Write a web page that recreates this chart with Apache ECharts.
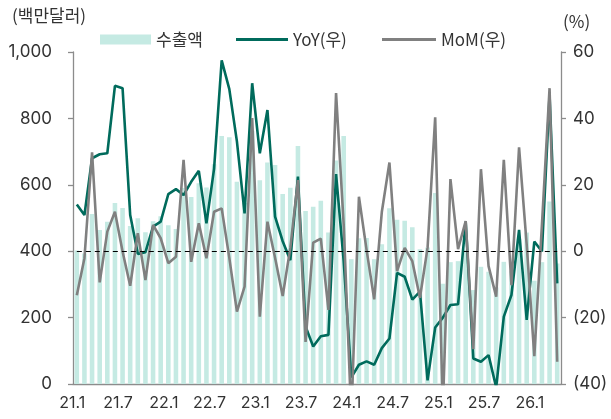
<!DOCTYPE html>
<html><head><meta charset="utf-8">
<script src="https://cdn.jsdelivr.net/npm/echarts@6/dist/echarts.min.js"></script>
<style>html,body{margin:0;padding:0;background:#fff}#c{width:611px;height:419px}</style>
</head><body><div id="c"></div>
<script>
const months = ['21.1','21.2','21.3','21.4','21.5','21.6','21.7','21.8','21.9','21.10','21.11','21.12',
'22.1','22.2','22.3','22.4','22.5','22.6','22.7','22.8','22.9','22.10','22.11','22.12',
'23.1','23.2','23.3','23.4','23.5','23.6','23.7','23.8','23.9','23.10','23.11','23.12',
'24.1','24.2','24.3','24.4','24.5','24.6','24.7','24.8','24.9','24.10','24.11','24.12',
'25.1','25.2','25.3','25.4','25.5','25.6','25.7','25.8','25.9','25.10','25.11','25.12',
'26.1','26.2','26.3','26.4'];
const exportsVal = [402,393,512,464,489,545,530,476,499,457,490,505,
478,467,590,563,605,592,662,747,743,609,545,763,
614,667,660,572,591,717,521,534,552,456,673,747,
376,439,440,376,421,529,495,492,472,406,411,575,
302,367,370,404,283,353,338,291,368,340,437,456,
311,367,550,363];
const yoyVal = [14.1,10.9,28.0,29.2,29.5,49.8,49.1,10.9,-0.8,-0.3,7.4,8.9,
17.2,18.7,16.9,20.9,24.2,8.4,24.8,57.5,48.8,33.0,11.4,50.6,
29.5,42.5,10.4,3.0,-2.7,22.5,-22.7,-28.7,-25.6,-25.2,23.2,-3,
-38,-34.2,-33.2,-34.2,-29.2,-26.3,-6.5,-7.7,-14.6,-12.2,-38.9,-23,
-20,-16.2,-16,8.9,-32.3,-33.3,-31.3,-41,-19.7,-13.2,6.4,-20.7,
2.9,-0.1,47,-9.7];
const momVal = [-13.3,-2.1,29.8,-9.4,5.9,11.9,-0.1,-10.4,5.4,-8.7,7.9,3.9,
-3.6,-1.7,27.5,-3.2,8.4,-2.1,11.9,12.9,-2,-18.2,-10.7,40.1,
-19.7,8.9,-2,-13.5,1,21.4,-27.3,2.6,3.8,-17.7,47.6,8,
-50,16.4,0.4,-14.5,11.8,26.7,-6,1,-3,-14,1,40.3,
-47.5,21.7,0.6,9.1,-29.5,24.7,-4.5,-13.7,27.5,-10.2,31.3,2,
-31.6,8,49.1,-33.3];
const leftTicks = {min:0, max:1000, step:200};
const rightTicks = {min:-40, max:60, step:20};

const FONT = '"Noto Sans CJK KR","Noto Sans",sans-serif';
const NUMFONT = 'Inter,"Noto Sans",sans-serif';
const AX = '#8c8c8c';
const TXT = '#333';
const chart = echarts.init(document.getElementById('c'), null, {renderer:'canvas'});
const legendText = {fontFamily:FONT, fontSize:17, color:TXT};
chart.setOption({
  animation:false,
  textStyle:{fontFamily:FONT},
  grid:{left:73, right:50, top:52, bottom:35},
  legend:[
    {left:95, top:26, itemWidth:51, itemHeight:10, icon:'rect', data:['수출액'], textStyle:legendText, itemGap:0},
    {left:231, top:26, itemWidth:52, itemHeight:3, icon:'rect', data:['YoY(우)'], textStyle:legendText, itemGap:0},
    {left:377, top:26, itemWidth:54, itemHeight:3, icon:'rect', data:['MoM(우)'], textStyle:legendText, itemGap:0}
  ],
  graphic:[
    {type:'text', left:12, top:7, style:{text:'(백만달러)', font:'17px '+FONT, fill:TXT}},
    {type:'text', left:563, top:13, style:{text:'(%)', font:'17px '+FONT, fill:TXT}}
  ],
  xAxis:{
    type:'category', data:months, boundaryGap:true,
    axisLine:{lineStyle:{color:AX, width:1.3}},
    axisTick:{interval:5, length:6, lineStyle:{color:AX, width:1.3}},
    axisLabel:{interval:5, color:TXT, fontSize:16, fontFamily:NUMFONT, margin:11, padding:[0,9,0,0]}
  },
  yAxis:[
    {type:'value', min:leftTicks.min, max:leftTicks.max, interval:leftTicks.step,
     axisLine:{show:true, lineStyle:{color:AX, width:1.3}},
     axisTick:{show:true, length:5, lineStyle:{color:AX, width:1.3}},
     splitLine:{show:false},
     axisLabel:{color:TXT, fontSize:17, fontFamily:NUMFONT, margin:21,
       formatter:v=>v.toLocaleString('en-US')}},
    {type:'value', min:rightTicks.min, max:rightTicks.max, interval:rightTicks.step, position:'right',
     axisLine:{show:true, lineStyle:{color:AX, width:1.3}},
     axisTick:{show:true, length:5, lineStyle:{color:AX, width:1.3}},
     splitLine:{show:false},
     axisLabel:{color:TXT, fontSize:17, fontFamily:NUMFONT, margin:12,
       formatter:v=>v<0?'('+(-v)+')':String(v)}}
  ],
  series:[
    {name:'수출액', type:'bar', data:exportsVal, barWidth:'60%', itemStyle:{color:'#c5eae3'}},
    {name:'YoY(우)', type:'line', yAxisIndex:1, data:yoyVal, symbol:'none', clip:true,
     lineStyle:{color:'#006b5c', width:2.6}, itemStyle:{color:'#006b5c'},
     markLine:{silent:true, symbol:['none','none'], label:{show:false},
       lineStyle:{color:'#000', type:[5,4], width:1.2},
       data:[[{coord:[months[0],0]},{coord:[months[months.length-1],0]}]]}},
    {name:'MoM(우)', type:'line', yAxisIndex:1, data:momVal, symbol:'none', clip:true,
     lineStyle:{color:'#808080', width:2.6}, itemStyle:{color:'#808080'}}
  ]
});
</script></body></html>
